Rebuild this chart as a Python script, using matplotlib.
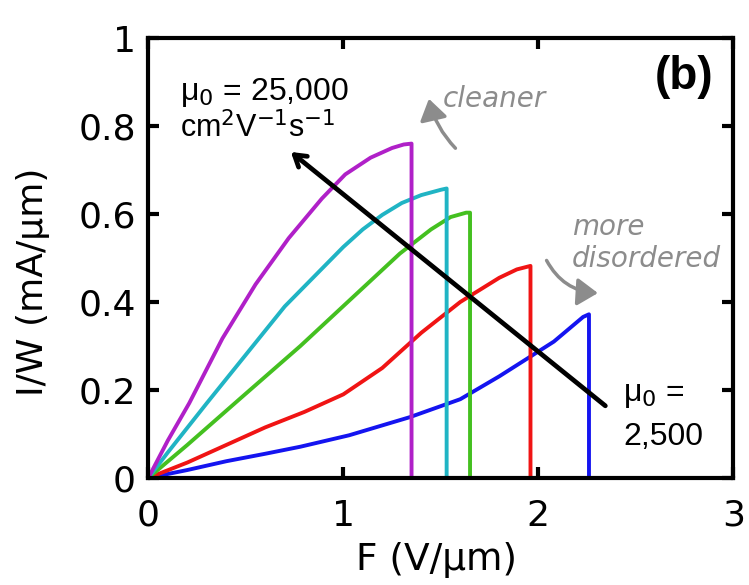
import matplotlib.pyplot as plt
from matplotlib.patches import FancyArrowPatch

# I/W vs F curves, mu0 from 25,000 (magenta) down to 2,500 (blue)
F_mag = [0, 0.1, 0.21, 0.38, 0.55, 0.72, 0.89, 1.01, 1.14, 1.25, 1.31, 1.35, 1.35]
I_mag = [0, 0.085, 0.17, 0.317, 0.44, 0.545, 0.635, 0.69, 0.728, 0.75, 0.758, 0.76, 0]

F_cyan = [0, 0.1, 0.3, 0.5, 0.7, 0.9, 1.0, 1.1, 1.2, 1.3, 1.4, 1.5, 1.53, 1.53]
I_cyan = [0, 0.058, 0.17, 0.28, 0.39, 0.48, 0.525, 0.565, 0.598, 0.625, 0.643, 0.655, 0.658, 0]

F_green = [0, 0.2, 0.47, 0.78, 0.95, 1.12, 1.29, 1.45, 1.55, 1.63, 1.65, 1.65]
I_green = [0, 0.075, 0.18, 0.30, 0.37, 0.44, 0.51, 0.565, 0.593, 0.603, 0.603, 0]

F_red = [0, 0.2, 0.4, 0.6, 0.8, 1.0, 1.2, 1.4, 1.6, 1.8, 1.89, 1.96, 1.96]
I_red = [0, 0.035, 0.075, 0.115, 0.15, 0.19, 0.25, 0.33, 0.40, 0.455, 0.474, 0.482, 0]

F_blue = [0, 0.2, 0.4, 0.6, 0.78, 1.03, 1.34, 1.6, 1.8, 1.96, 2.08, 2.23, 2.26, 2.26]
I_blue = [0, 0.018, 0.038, 0.055, 0.071, 0.097, 0.138, 0.179, 0.231, 0.276, 0.31, 0.366, 0.372, 0]

fig = plt.figure(figsize=(7.49, 5.85), dpi=100)
ax = fig.add_axes([0.198, 0.183, 0.781, 0.752])

lw = 2.8
ax.plot(F_blue, I_blue, color='#1414f0', lw=lw)
ax.plot(F_red, I_red, color='#f01414', lw=lw)
ax.plot(F_green, I_green, color='#44c020', lw=lw)
ax.plot(F_cyan, I_cyan, color='#20b4c4', lw=lw)
ax.plot(F_mag, I_mag, color='#b020c8', lw=lw)

ax.set_xlim(0, 3)
ax.set_ylim(0, 1)
ax.set_xticks([0, 1, 2, 3])
ax.set_yticks([0, 0.2, 0.4, 0.6, 0.8, 1])
ax.set_xticklabels(['0', '1', '2', '3'])
ax.set_yticklabels(['0', '0.2', '0.4', '0.6', '0.8', '1'])
ax.tick_params(direction='in', length=8, width=3, labelsize=26,
               top=True, right=True, pad=9)
ax.tick_params(axis='x', pad=15)
for s in ax.spines.values():
    s.set_linewidth(3)

ax.set_xlabel('F (V/μm)', fontsize=27, va='top')
ax.xaxis.set_label_coords(0.492, -0.145)
ax.set_ylabel('I/W (mA/μm)', fontsize=26, va='bottom')
ax.yaxis.set_label_coords(-0.168, 0.445)

# big black arrow
ax.annotate('', xy=(0.72, 0.745), xytext=(2.355, 0.16),
            arrowprops=dict(arrowstyle='->,head_length=0.8,head_width=0.5',
                            color='black', lw=3.4))

tf = 'Liberation Sans'
ax.text(0.164, 0.859, 'μ$_0$ = 25,000', fontsize=23, family=tf, va='baseline')
ax.text(0.164, 0.773, 'cm$^2$V$^{-1}$s$^{-1}$', fontsize=22, family=tf, va='baseline')
ax.text(2.436, 0.175, 'μ$_0$ =', fontsize=23, family=tf, va='baseline')
ax.text(2.436, 0.075, '2,500', fontsize=23, family=tf, va='baseline')
ax.text(2.897, 0.911, '(b)', fontsize=33, family=tf, fontweight='bold',
        ha='right', va='center')

grey = '#8c8c8c'
gf = 'DejaVu Sans'
ax.text(1.51, 0.843, 'cleaner', fontsize=20, family=gf, style='italic',
        color=grey, va='baseline')
ax.text(2.174, 0.552, 'more', fontsize=20, family=gf, style='italic',
        color=grey, va='baseline')
ax.text(2.174, 0.48, 'disordered', fontsize=20, family=gf, style='italic',
        color=grey, va='baseline')

ax.add_patch(FancyArrowPatch((1.585, 0.745), (1.436, 0.868),
                             connectionstyle='arc3,rad=-0.15',
                             arrowstyle='-|>,head_length=9,head_width=6',
                             color=grey, lw=2.5, mutation_scale=1.4))
ax.add_patch(FancyArrowPatch((2.036, 0.5), (2.32, 0.42),
                             connectionstyle='arc3,rad=0.3',
                             arrowstyle='-|>,head_length=9,head_width=6',
                             color=grey, lw=2.5, mutation_scale=1.4))

fig.savefig('out.png', dpi=100)
